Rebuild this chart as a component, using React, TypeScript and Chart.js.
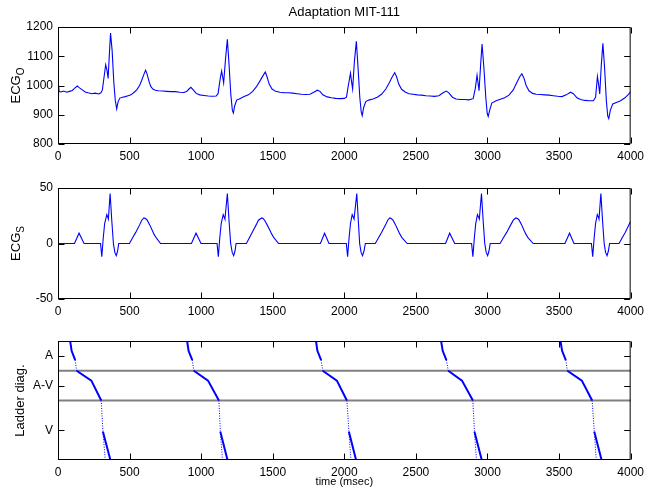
import React, { useEffect, useRef } from "react";
import { Chart, registerables } from "chart.js";
Chart.register(...registerables);

const FONT = '"Liberation Sans", Arial, Helvetica, sans-serif';
const BLUE = "#0000ff";

const titleText = "Adaptation MIT-111";
const xTickValues = [0, 500, 1000, 1500, 2000, 2500, 3000, 3500, 4000];
const ecgOTickValues = [800, 900, 1000, 1100, 1200];
const ecgSTickValues = [-50, 0, 50];
const ladderTickValues = [0.5, 1.5, 3];
const ladderTickLabels = ["A", "A-V", "V"];
const ladderLevels = [1, 2];

// Original ECG (ms, value)
const ecgOTimes = [
  0, 4, 8, 20, 40, 60, 80, 100, 115, 135, 150, 170, 190, 210, 235, 260, 285, 300, 310, 322, 333, 343, 350, 358, 367, 378, 390, 400, 410, 420, 432, 450, 470, 490, 510, 530, 550, 570, 585, 600, 612, 622, 635, 648, 662, 680, 700, 730, 760, 790, 820, 850, 880, 900, 915, 928, 945, 965, 990,
  1020, 1050, 1080, 1105, 1118, 1132, 1143, 1150, 1157, 1170, 1183, 1195, 1207, 1218, 1225, 1234, 1248, 1270, 1300, 1330, 1360, 1385, 1410, 1430, 1448, 1460, 1475, 1495, 1520, 1550, 1580, 1610, 1640, 1670, 1700, 1730, 1760, 1790, 1812, 1830, 1850, 1880, 1910, 1940, 1970,
  2000, 2015, 2028, 2043, 2050, 2058, 2070, 2084, 2096, 2108, 2118, 2125, 2135, 2150, 2170, 2200, 2230, 2260, 2290, 2315, 2335, 2352, 2365, 2380, 2400, 2425, 2450, 2480, 2510, 2540, 2570, 2600, 2630, 2660, 2690, 2712, 2730, 2755, 2780, 2810, 2840, 2870,
  2900, 2915, 2927, 2935, 2941, 2952, 2962, 2975, 2988, 2998, 3005, 3015, 3030, 3060, 3090, 3120, 3150, 3180, 3205, 3225, 3240, 3255, 3270, 3290, 3315, 3340, 3370, 3400, 3430, 3460, 3490, 3520, 3550, 3580, 3600, 3625, 3650, 3680, 3710,
  3740, 3755, 3768, 3777, 3784, 3795, 3806, 3818, 3830, 3840, 3847, 3858, 3875, 3900, 3930, 3960, 3985, 4000,
];
const ecgOValues = [
  968, 1000, 980, 978, 981, 977, 980, 983, 990, 998, 992, 985, 978, 975, 972, 974, 971, 975, 985, 1030, 1071, 1050, 1024, 1100, 1179, 1120, 1010, 950, 920, 945, 957, 960, 962, 965, 968, 976, 985, 1000, 1018, 1038, 1052, 1040, 1015, 997, 988, 984, 982, 981, 980, 979, 979, 977, 976, 980, 988, 994, 985, 973, 968,
  966, 964, 963, 964, 972, 1020, 1049, 1030, 1009, 1090, 1158, 1070, 970, 915, 906, 930, 950, 955, 962, 968, 980, 995, 1015, 1032, 1046, 1030, 1005, 988, 980, 977, 975, 975, 974, 972, 970, 969, 970, 978, 984, 980, 968, 961, 958, 956, 955,
  956, 960, 1000, 1042, 1015, 988, 1080, 1151, 1060, 960, 910, 897, 925, 945, 950, 954, 960, 970, 988, 1010, 1030, 1044, 1030, 1005, 987, 978, 972, 970, 968, 967, 965, 964, 963, 965, 975, 981, 975, 960, 954, 952, 952, 951,
  955, 990, 1035, 1005, 982, 1070, 1142, 1060, 960, 905, 894, 915, 940, 948, 953, 958, 967, 985, 1010, 1030, 1040, 1025, 1000, 982, 973, 970, 969, 968, 967, 965, 963, 962, 968, 977, 972, 958, 952, 949, 948,
  948, 960, 1031, 1000, 971, 1070, 1144, 1060, 950, 895, 887, 915, 937, 942, 948, 958, 970, 979,
];

// Synthetic ECG (ms, value)
const ecgSTimes = [
  0, 115, 147, 182, 297, 306, 316, 326, 341, 347, 352, 364, 376, 387, 397, 407, 416, 424, 499, 520, 543, 571, 585, 600, 612, 623, 640, 658, 672, 687, 716,
  932, 964, 999, 1111, 1120, 1130, 1140, 1154, 1160, 1166, 1183, 1195, 1206, 1217, 1227, 1236, 1244, 1316, 1336, 1356, 1385, 1400, 1423, 1433, 1443, 1460, 1480, 1495, 1509, 1541,
  1833, 1862, 1893, 2014, 2023, 2033, 2043, 2055, 2062, 2068, 2087, 2098, 2107, 2117, 2127, 2137, 2147, 2216, 2238, 2260, 2289, 2303, 2317, 2328, 2340, 2357, 2375, 2390, 2404, 2439,
  2707, 2736, 2771, 2889, 2898, 2908, 2918, 2930, 2937, 2943, 2958, 2970, 2981, 2991, 3001, 3010, 3019, 3088, 3110, 3134, 3163, 3180, 3198, 3210, 3221, 3238, 3255, 3270, 3284, 3319,
  3541, 3573, 3604, 3726, 3735, 3745, 3755, 3767, 3774, 3779, 3792, 3804, 3815, 3825, 3835, 3844, 3853, 3919, 3940, 3962, 4000,
];
const ecgSValues = [
  0, 0, 9.3, 0, 0, -12, 5, 18, 26, 24, 22, 45, 20, 0, -8, -11, -7, 0, 0, 5, 10, 17, 21, 23, 22.5, 21, 17, 12, 8, 5, 0,
  0, 9.3, 0, 0, -12, 5, 18, 26, 24, 22, 45, 20, 0, -8, -11, -7, 0, 0, 5, 10, 17, 21, 23, 22.5, 21, 17, 12, 8, 5, 0,
  0, 9.3, 0, 0, -12, 5, 18, 26, 24, 22, 45, 20, 0, -8, -11, -7, 0, 0, 5, 10, 17, 21, 23, 22.5, 21, 17, 12, 8, 5, 0,
  0, 9.3, 0, 0, -12, 5, 18, 26, 24, 22, 45, 20, 0, -8, -11, -7, 0, 0, 5, 10, 17, 21, 23, 22.5, 21, 17, 12, 8, 5, 0,
  0, 9.3, 0, 0, -12, 5, 18, 26, 24, 22, 45, 20, 0, -8, -11, -7, 0, 0, 5, 10, 20,
];

// Ladder diagram: time (ms) at which each beat's path crosses each level
const ladderTop = [85, 902, 1802, 2676, 3510];          // level 0
const ladderAKnee1 = [95, 912, 1812, 2687, 3521];       // level 0.33
const ladderAKnee2 = [120, 938, 1838, 2713, 3547];      // level 0.64
const ladderAVStart = [130, 949, 1849, 2726, 3558];     // level 1
const ladderAVKnee = [233, 1048, 1948, 2822, 3659];     // level 1.33
const ladderAVEnd = [302, 1124, 2018, 2898, 3731];      // level 2
const ladderVStart = [314, 1134, 2032, 2909, 3746];     // level 3.05
const ladderVEnd = [366, 1184, 2082, 2960, 3797];       // level 4
const ladderVDotEnd = [330, 1149, 2046, 2923, 3760];    // level 4
const ladderY = { top: 0, k1: 0.33, k2: 0.64, avs: 1, avk: 1.33, ave: 2, vs: 3.05, bottom: 4 };

type Pt = { x: number; y: number | null };

function buildLadder() {
  const solid: Pt[] = [];
  const dotted: Pt[] = [];
  for (let i = 0; i < ladderTop.length; i++) {
    solid.push(
      { x: ladderTop[i], y: ladderY.top },
      { x: ladderAKnee1[i], y: ladderY.k1 },
      { x: ladderAKnee2[i], y: ladderY.k2 },
      { x: ladderAKnee2[i], y: null },
      { x: ladderAVStart[i], y: ladderY.avs },
      { x: ladderAVKnee[i], y: ladderY.avk },
      { x: ladderAVEnd[i], y: ladderY.ave },
      { x: ladderAVEnd[i], y: null },
      { x: ladderVStart[i], y: ladderY.vs },
      { x: ladderVEnd[i], y: ladderY.bottom },
      { x: ladderVEnd[i], y: null }
    );
    dotted.push(
      { x: ladderAKnee2[i], y: ladderY.k2 },
      { x: ladderAVStart[i], y: ladderY.avs },
      { x: ladderAVStart[i], y: null },
      { x: ladderAVEnd[i], y: ladderY.ave },
      { x: ladderVStart[i], y: ladderY.vs },
      { x: ladderVStart[i], y: null },
      { x: ladderVStart[i], y: ladderY.vs },
      { x: ladderVDotEnd[i], y: ladderY.bottom },
      { x: ladderVDotEnd[i], y: null }
    );
  }
  return { solid, dotted };
}

type FrameCfg = {
  yTitle: string;
  ySub?: string;
  yTitleX: number;
  title?: string;
  titleY?: number;
  xTitle?: string;
  xTitleY?: number;
  hLines?: number[];
};

function framePlugin(cfg: FrameCfg) {
  return {
    id: "matlabFrame",
    beforeDatasetsDraw(chart: any) {
      if (!cfg.hLines) return;
      const { ctx, chartArea: a, scales } = chart;
      ctx.save();
      ctx.strokeStyle = "#808080";
      ctx.lineWidth = 2;
      for (const v of cfg.hLines) {
        const y = scales.y.getPixelForValue(v);
        ctx.beginPath();
        ctx.moveTo(a.left, y);
        ctx.lineTo(a.right, y);
        ctx.stroke();
      }
      ctx.restore();
    },
    afterDraw(chart: any) {
      const { ctx, chartArea: a, scales } = chart;
      const L = a.left + 0.5, R = a.right - 0.5, T = a.top + 0.5, B = a.bottom - 0.5;
      const tl = 6;
      ctx.save();
      ctx.strokeStyle = "#000";
      ctx.lineWidth = 1;
      ctx.beginPath();
      for (const t of scales.x.ticks) {
        const x = Math.round(scales.x.getPixelForValue(t.value)) + 0.5;
        ctx.moveTo(x, B);
        ctx.lineTo(x, B - tl);
        ctx.moveTo(x, T);
        ctx.lineTo(x, T + tl);
      }
      for (const t of scales.y.ticks) {
        const y = Math.round(scales.y.getPixelForValue(t.value)) + 0.5;
        ctx.moveTo(L, y);
        ctx.lineTo(L + tl, y);
        ctx.moveTo(R, y);
        ctx.lineTo(R - tl, y);
      }
      ctx.stroke();
      ctx.strokeRect(L, T, R - L, B - T);

      ctx.fillStyle = "#000";
      // y title (rotated, with optional subscript)
      const cy = (a.top + a.bottom) / 2;
      ctx.save();
      ctx.translate(cfg.yTitleX, cy);
      ctx.rotate(-Math.PI / 2);
      ctx.font = `13px ${FONT}`;
      const w1 = ctx.measureText(cfg.yTitle).width;
      let w2 = 0;
      if (cfg.ySub) {
        ctx.font = `10px ${FONT}`;
        w2 = ctx.measureText(cfg.ySub).width;
      }
      const start = -(w1 + w2) / 2;
      ctx.textBaseline = "middle";
      ctx.textAlign = "left";
      ctx.font = `13px ${FONT}`;
      ctx.fillText(cfg.yTitle, start, 0);
      if (cfg.ySub) {
        ctx.font = `10px ${FONT}`;
        ctx.fillText(cfg.ySub, start + w1, 5);
      }
      ctx.restore();

      if (cfg.title) {
        ctx.font = `13px ${FONT}`;
        ctx.textAlign = "center";
        ctx.textBaseline = "middle";
        ctx.fillText(cfg.title, (a.left + a.right) / 2, cfg.titleY || 12);
      }
      if (cfg.xTitle) {
        ctx.font = `11px ${FONT}`;
        ctx.textAlign = "center";
        ctx.textBaseline = "middle";
        ctx.fillText(cfg.xTitle, (a.left + a.right) / 2, cfg.xTitleY || 0);
      }
      ctx.restore();
    },
  };
}

function makeOptions(p: {
  padTop: number;
  xAxisH: number;
  yMin: number;
  yMax: number;
  yTicks: number[];
  yLabels?: string[];
  reverse?: boolean;
}) {
  const tickFont = { family: FONT, size: 12 };
  return {
    animation: false,
    responsive: false,
    devicePixelRatio: 1,
    events: [],
    layout: { padding: { top: p.padTop, right: 17, left: 0, bottom: 0 } },
    plugins: { legend: { display: false }, tooltip: { enabled: false }, title: { display: false } },
    scales: {
      x: {
        type: "linear",
        min: 0,
        max: 4000,
        grid: { display: false, drawTicks: false },
        border: { display: false },
        ticks: {
          padding: 5,
          autoSkip: false,
          maxRotation: 0,
          color: "#000",
          font: tickFont,
          callback: (v: number) => String(v),
        },
        afterBuildTicks: (s: any) => {
          s.ticks = xTickValues.map((v) => ({ value: v }));
        },
        afterFit: (s: any) => {
          s.height = p.xAxisH;
        },
      },
      y: {
        type: "linear",
        min: p.yMin,
        max: p.yMax,
        reverse: !!p.reverse,
        grid: { display: false, drawTicks: false },
        border: { display: false },
        ticks: {
          padding: 5,
          autoSkip: false,
          color: "#000",
          font: tickFont,
          callback: (v: number) => (p.yLabels ? p.yLabels[p.yTicks.indexOf(v)] : String(v)),
        },
        afterBuildTicks: (s: any) => {
          s.ticks = p.yTicks.map((v) => ({ value: v }));
        },
        afterFit: (s: any) => {
          s.width = 58;
        },
      },
    },
  } as any;
}

export default function App() {
  const r1 = useRef<HTMLCanvasElement>(null);
  const r2 = useRef<HTMLCanvasElement>(null);
  const r3 = useRef<HTMLCanvasElement>(null);

  useEffect(() => {
    const lineDs = (data: Pt[]) => ({
      data,
      borderColor: BLUE,
      borderWidth: 1.1,
      pointRadius: 0,
      tension: 0,
      fill: false,
    });

    const c1 = new Chart(r1.current!, {
      type: "line",
      data: { datasets: [lineDs(ecgOTimes.map((t, i) => ({ x: t, y: ecgOValues[i] })))] },
      options: makeOptions({ padTop: 27, xAxisH: 26, yMin: 800, yMax: 1200, yTicks: ecgOTickValues }),
      plugins: [framePlugin({ yTitle: "ECG", ySub: "O", yTitleX: 16, title: titleText, titleY: 12 })],
    } as any);

    const c2 = new Chart(r2.current!, {
      type: "line",
      data: { datasets: [lineDs(ecgSTimes.map((t, i) => ({ x: t, y: ecgSValues[i] })))] },
      options: makeOptions({ padTop: 18, xAxisH: 26, yMin: -50, yMax: 50, yTicks: ecgSTickValues }),
      plugins: [framePlugin({ yTitle: "ECG", ySub: "S", yTitleX: 16 })],
    } as any);

    const lad = buildLadder();
    const c3 = new Chart(r3.current!, {
      type: "line",
      data: {
        datasets: [
          { data: lad.solid, borderColor: BLUE, borderWidth: 2, pointRadius: 0, tension: 0, spanGaps: false },
          { data: lad.dotted, borderColor: BLUE, borderWidth: 1, borderDash: [1, 1.5], pointRadius: 0, tension: 0, spanGaps: false },
        ],
      },
      options: makeOptions({
        padTop: 16,
        xAxisH: 33,
        yMin: 0,
        yMax: 4,
        yTicks: ladderTickValues,
        yLabels: ladderTickLabels,
        reverse: true,
      }),
      plugins: [framePlugin({ yTitle: "Ladder diag.", yTitleX: 20, xTitle: "time (msec)", xTitleY: 157, hLines: ladderLevels })],
    } as any);

    return () => {
      c1.destroy();
      c2.destroy();
      c3.destroy();
    };
  }, []);

  const cs = (top: number, h: number): React.CSSProperties => ({
    position: "absolute",
    left: 0,
    top,
    width: 649,
    height: h,
    display: "block",
  });

  return (
    <div style={{ position: "absolute", left: 0, top: 0, width: 649, height: 493, background: "#fff" }}>
      <canvas ref={r1} width={649} height={170} style={cs(0, 170)} />
      <canvas ref={r2} width={649} height={155} style={cs(170, 155)} />
      <canvas ref={r3} width={649} height={168} style={cs(325, 168)} />
    </div>
  );
}
